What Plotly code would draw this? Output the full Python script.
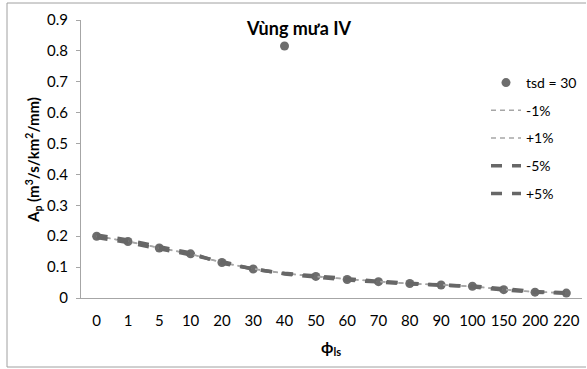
import plotly.graph_objects as go

categories = ["0", "1", "5", "10", "20", "30", "40", "50", "60", "70", "80", "90", "100", "150", "200", "220"]
tsd30 = [0.200, 0.183, 0.162, 0.143, 0.115, 0.094, 0.816, 0.070, 0.060, 0.053, 0.047, 0.042, 0.038, 0.027, 0.019, 0.016]
minus1 = [0.199, 0.184, 0.162, 0.142, 0.116, 0.094, 0.079, 0.070, 0.060, 0.053, 0.047, 0.042, 0.038, 0.027, 0.020, 0.016]
plus1 = [0.201, 0.183, 0.163, 0.143, 0.114, 0.095, 0.080, 0.069, 0.061, 0.052, 0.046, 0.043, 0.037, 0.028, 0.019, 0.017]
minus5 = [0.196, 0.180, 0.159, 0.140, 0.118, 0.093, 0.080, 0.071, 0.062, 0.054, 0.048, 0.041, 0.039, 0.029, 0.021, 0.017]
plus5 = [0.204, 0.188, 0.166, 0.146, 0.112, 0.096, 0.078, 0.068, 0.058, 0.052, 0.045, 0.043, 0.036, 0.026, 0.019, 0.015]
y_ticks = [0, 0.1, 0.2, 0.3, 0.4, 0.5, 0.6, 0.7, 0.8, 0.9]
y_ticktext = ["0", "0.1", "0.2", "0.3", "0.4", "0.5", "0.6", "0.7", "0.8", "0.9"]

FONT = "Lato"
W, H = 587, 369
ML, MR, MT, MB = 81, 5, 20, 71
PW, PH = W - ML - MR, H - MT - MB

def px_x(px):
    return (px - ML) / PW

def px_y(py):
    return (H - MB - py) / PH

fig = go.Figure()
fig.add_trace(go.Scatter(x=categories, y=tsd30, mode="markers", name="tsd = 30",
                         legendgroup="a",
                         marker=dict(color="#6d6d6d", size=9)))
fig.add_trace(go.Scatter(x=categories, y=minus1, mode="lines", name="-1%", legendgroup="b",
                         line=dict(color="#a6a6a6", width=1.5, dash="5px,4px")))
fig.add_trace(go.Scatter(x=categories, y=plus1, mode="lines", name="+1%", legendgroup="c",
                         line=dict(color="#a6a6a6", width=1.5, dash="5px,4px")))
fig.add_trace(go.Scatter(x=categories, y=minus5, mode="lines", name="-5%", legendgroup="d",
                         line=dict(color="#676767", width=3.5, dash="11px,10px")))
fig.add_trace(go.Scatter(x=categories, y=plus5, mode="lines", name="+5%", legendgroup="e",
                         line=dict(color="#676767", width=3.5, dash="11px,10px")))

border = dict(color="#a0a0a0", width=1)
fig.update_layout(
    width=W, height=H,
    margin=dict(l=ML, r=MR, t=MT, b=MB),
    paper_bgcolor="white", plot_bgcolor="white",
    font=dict(family=FONT, size=15, color="#000000"),
    showlegend=True,
    legend=dict(x=px_x(486), y=px_y(67), xanchor="left", yanchor="top",
                bgcolor="rgba(0,0,0,0)", font=dict(family=FONT, size=14, color="#000000"),
                traceorder="grouped", tracegroupgap=6.5),
    xaxis=dict(type="category", categoryorder="array", categoryarray=categories,
               range=[-0.5, len(categories) - 0.5],
               showline=True, linecolor="#a6a6a6", linewidth=1,
               showgrid=False, zeroline=False, ticks="", ticklabelstandoff=9,
               tickfont=dict(family=FONT, size=15, color="#000000")),
    yaxis=dict(range=[0, 0.9], tickvals=y_ticks, ticktext=y_ticktext,
               showline=True, linecolor="#a6a6a6", linewidth=1,
               showgrid=False, zeroline=False, ticks="outside", ticklen=4,
               tickcolor="#a6a6a6", ticklabelstandoff=5,
               tickfont=dict(family=FONT, size=15, color="#000000")),
    shapes=[
        dict(type="line", xref="paper", yref="paper",
             x0=px_x(7), x1=px_x(7), y0=px_y(367), y1=px_y(3), line=border),
        dict(type="line", xref="paper", yref="paper",
             x0=px_x(7), x1=px_x(W - 1), y0=px_y(3), y1=px_y(3), line=border),
        dict(type="line", xref="paper", yref="paper",
             x0=px_x(7), x1=px_x(W - 1), y0=px_y(367), y1=px_y(367), line=border),
    ],
    annotations=[
        dict(text="<b>Vùng mưa IV</b>", xref="paper", yref="paper",
             x=px_x(298), y=px_y(28), xanchor="center", yanchor="middle",
             showarrow=False, font=dict(family=FONT, size=18, color="#000000")),
        dict(text="<b>A<sub>p</sub> (m<sup>3</sup>/s/km<sup>2</sup>/mm)</b>", xref="paper", yref="paper",
             x=px_x(33), y=px_y(160), xanchor="center", yanchor="middle", textangle=-90,
             showarrow=False, font=dict(family=FONT, size=15, color="#000000")),
        dict(text="<b>ϕ<sub>ls</sub></b>", xref="paper", yref="paper",
             x=px_x(331), y=px_y(347), xanchor="center", yanchor="middle",
             showarrow=False, font=dict(family=FONT, size=16, color="#000000")),
    ],
)

fig.write_html("out.html", config={"displayModeBar": False})
